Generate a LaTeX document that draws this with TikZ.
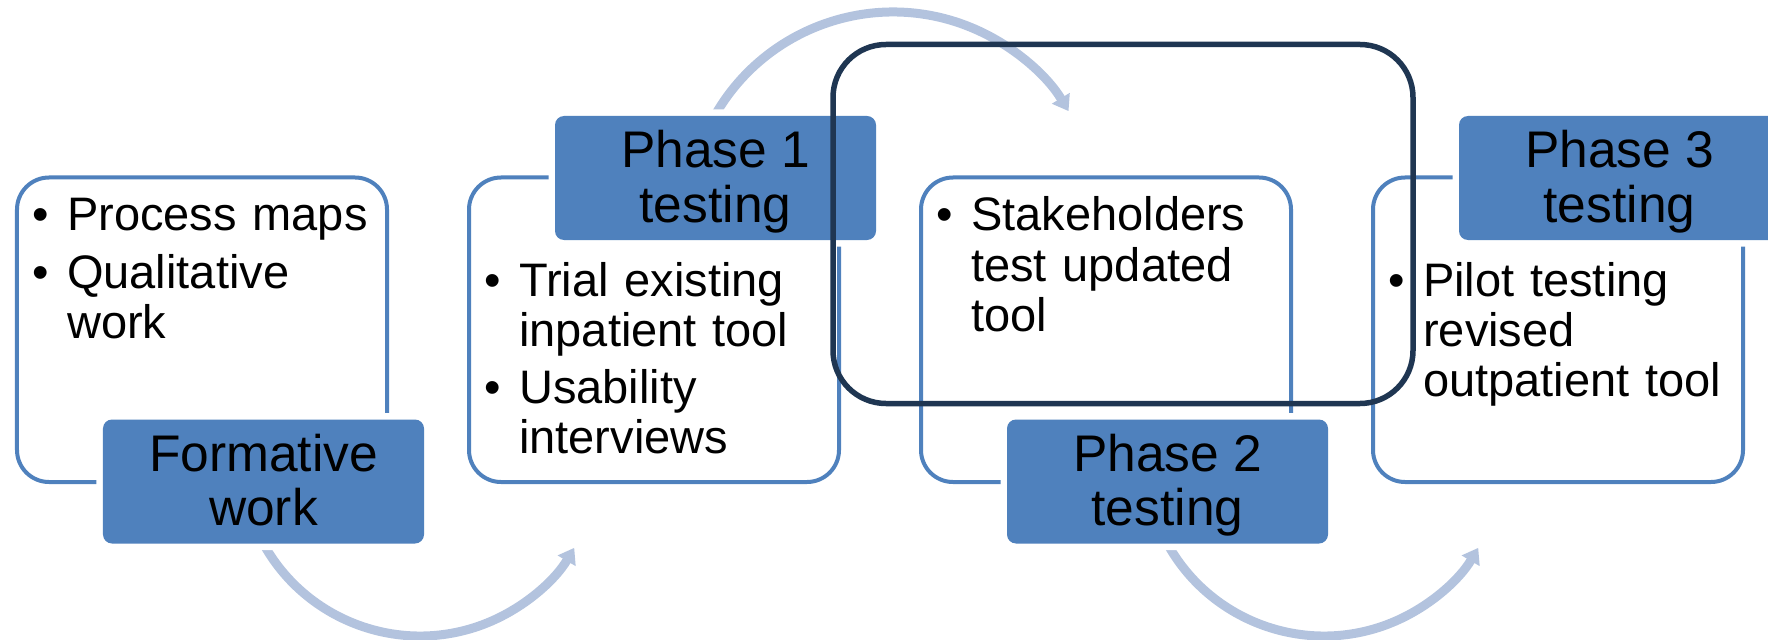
\documentclass[tikz,border=0pt]{standalone}
\usepackage{fontspec}
\setmainfont{Liberation Sans}
\usetikzlibrary{arrows.meta,calc}

\definecolor{boxblue}{HTML}{4F81BD}
\definecolor{arcblue}{HTML}{B3C3DE}
\definecolor{framenavy}{HTML}{1F3652}

% one bulleted item with a hanging indent; lines are broken with \newline
\newcommand{\bitem}[1]{\hangindent=35bp\hangafter=1\noindent\makebox[35bp][l]{\textbullet}#1\par}

\begin{document}
\begin{tikzpicture}[x=1bp, y=-1bp,
  card/.style={rectangle, rounded corners=32bp, draw=boxblue, line width=4bp,
    fill=white, minimum width=370bp, minimum height=304.5bp, inner sep=0pt},
  phasebox/.style={rectangle, rounded corners=9bp, fill=boxblue,
    preaction={draw=white, line width=13bp},
    minimum width=321bp, minimum height=124bp, inner sep=0pt, align=center,
    font=\fontsize{51.5bp}{54bp}\selectfont, text height=94bp, text depth=6bp},
  itemtext/.style={anchor=base west, inner sep=0pt, text width=340bp, align=left,
    font=\fontsize{47bp}{50bp}\selectfont},
  flowarc/.style={draw=arcblue, line width=9bp, -{Triangle[width=20bp,length=15bp]}},
  focusframe/.style={rectangle, rounded corners=53bp, draw=framenavy, line width=5.5bp,
    minimum width=580bp, minimum height=359bp, inner sep=0pt}
]
\clip (0,0) rectangle (1768,640);

% curved arrows between the stages (drawn first, boxes cover their tails)
\coordinate (arcA) at (420,457);
\coordinate (arcB) at (893,217);
\coordinate (arcC) at (1324,457);
\draw[flowarc] ($(arcA)+(155:179)$) arc[start angle=155, end angle=30.5, radius=179];
\draw[flowarc] ($(arcB)+(205:205)$) arc[start angle=205, end angle=328.9, radius=205];
\draw[flowarc] ($(arcC)+(155:179)$) arc[start angle=155, end angle=30.5, radius=179];

% content cards
\node[card] (card1) at (202,329.75) {};
\node[card] (card2) at (654,329.75) {};
\node[card] (card3) at (1106,329.75) {};
\node[card] (card4) at (1558,329.75) {};

% bullet lists
\node[itemtext] (list1) at (32,231) {\setlength{\parskip}{7bp}%
  \bitem{Process maps}\bitem{Qualitative\newline work}};
\node[itemtext] (list2) at (484,296) {\setlength{\parskip}{7bp}%
  \bitem{Trial existing\newline inpatient tool}\bitem{Usability\newline interviews}};
\node[itemtext] (list3) at (936,231) {\setlength{\parskip}{7bp}%
  \bitem{Stakeholders\newline test updated\newline tool}};
\node[itemtext] (list4) at (1388,296) {\setlength{\parskip}{7bp}%
  \bitem{Pilot testing\newline revised\newline outpatient tool}};

% stage labels
\node[phasebox] (formative) at (263.5,481.5) {Formative\\work};
\node[phasebox] (phase1) at (715.5,178) {Phase 1\\testing};
\node[phasebox] (phase2) at (1167.5,481.5) {Phase 2\\testing};
\node[phasebox] (phase3) at (1619.5,178) {Phase 3\\testing};

% highlight frame around the second test stage
\node[focusframe] (focus) at (1123,224) {};
\end{tikzpicture}
\end{document}
